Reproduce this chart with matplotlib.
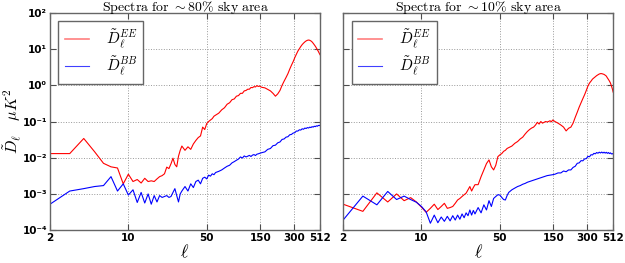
import matplotlib
matplotlib.use("Agg")
import matplotlib.pyplot as plt
from matplotlib.ticker import FixedLocator, FixedFormatter, NullLocator

plt.rcParams['mathtext.fontset'] = 'cm'

ell = [2, 3, 4, 5, 6, 7, 8, 9, 10, 11, 12, 13, 14, 15, 16, 17, 18, 19, 20, 21, 22, 23, 24, 25, 26, 27, 28, 29, 30,
       32, 34, 36, 38, 40, 42, 44, 46, 48, 50, 52, 54, 56, 58, 60,
       64, 68, 72, 76, 80, 84, 88, 92, 96, 100, 104, 108, 112, 116, 120, 124, 128, 132, 136, 140, 144, 148,
       155, 165, 175, 185, 195, 205, 215, 225, 235, 245, 255, 265, 275, 285, 295, 305, 315, 325, 335, 345,
       355, 365, 375, 385, 395, 405, 415, 425, 435, 445, 455, 465, 475, 485, 495, 505,
       512]

ee_80 = [0.013, 0.013, 0.034, 0.0146, 0.007, 0.0056, 0.0052, 0.0019, 0.0035, 0.0022, 0.0025, 0.002, 0.0027,
         0.0022, 0.0023, 0.0022, 0.0026, 0.003, 0.0032, 0.0036, 0.0055, 0.005, 0.0068, 0.0097, 0.0065, 0.0056,
         0.011, 0.016, 0.021,
         0.016, 0.02, 0.017, 0.024, 0.03, 0.036, 0.04, 0.07, 0.06, 0.088, 0.1, 0.11, 0.12, 0.14, 0.15,
         0.17, 0.21, 0.24, 0.3, 0.33, 0.4, 0.42, 0.5, 0.52, 0.6, 0.6, 0.7, 0.72, 0.78, 0.78, 0.87, 0.86, 0.92,
         0.9, 0.98, 0.93, 0.95,
         0.88, 0.85, 0.77, 0.7, 0.6, 0.5, 0.58, 0.72, 1.0, 1.3, 1.65, 2.1, 2.8, 3.6, 4.5, 5.8, 7.2, 8.8, 10.2,
         11.8, 13.3, 14.6, 15.8, 16.8, 17.5, 17.8, 17.5, 16.8, 15.8, 14.5, 13.2, 12.0, 10.8, 9.6, 8.6, 7.6,
         7.0]

bb_80 = [0.00052, 0.0012, 0.0014, 0.0016, 0.0017, 0.003, 0.0012, 0.0019, 0.00093, 0.0013, 0.00058, 0.0011,
         0.00056, 0.001, 0.00052, 0.0009, 0.0006, 0.0009, 0.0008, 0.00085, 0.0009, 0.0008, 0.00085, 0.0011,
         0.0014, 0.0009, 0.0006, 0.001, 0.0012,
         0.0016, 0.0012, 0.0019, 0.0015, 0.0022, 0.0024, 0.0019, 0.0027, 0.0029, 0.0026, 0.0033, 0.0031,
         0.0036, 0.0034, 0.0039,
         0.0042, 0.0046, 0.0052, 0.0058, 0.0062, 0.0072, 0.0078, 0.0085, 0.0092, 0.0105, 0.0098, 0.0112,
         0.0105, 0.011, 0.0116, 0.0108, 0.0118, 0.0122, 0.0115, 0.0125, 0.0128, 0.0132,
         0.0138, 0.0145, 0.0170, 0.0180, 0.0215, 0.0222, 0.0258, 0.0272, 0.032, 0.033, 0.037, 0.038, 0.043,
         0.044, 0.048, 0.049, 0.0545, 0.0545, 0.059, 0.058, 0.063, 0.061, 0.066, 0.064, 0.068, 0.066, 0.070,
         0.068, 0.072, 0.070, 0.074, 0.072, 0.076, 0.074, 0.078, 0.077,
         0.079]

ee_10 = [5.2e-4, 3.3e-4, 1.07e-3, 6e-4, 1.0e-3, 6.5e-4, 7.9e-4, 6e-4, 4.3e-4, 3.1e-4, 4.0e-4, 5.2e-4, 3.7e-4,
         4.5e-4, 5.5e-4, 4.0e-4, 4.2e-4, 4.5e-4, 5.5e-4, 6.8e-4, 7.5e-4, 8.5e-4, 9.5e-4, 1.05e-3, 1.3e-3,
         1.6e-3, 1.2e-3, 1.5e-3, 1.8e-3,
         1.8e-3, 3.0e-3, 4.6e-3, 6.9e-3, 8.7e-3, 5.6e-3, 4.6e-3, 6.2e-3, 0.0107, 0.012, 0.013, 0.015, 0.016,
         0.018, 0.019,
         0.021, 0.025, 0.028, 0.033, 0.037, 0.045, 0.053, 0.06, 0.066, 0.07, 0.08, 0.095, 0.085, 0.1, 0.09,
         0.095, 0.1, 0.097, 0.1, 0.105, 0.098, 0.11,
         0.1, 0.09, 0.08, 0.07, 0.055, 0.065, 0.07, 0.09, 0.13, 0.18, 0.25, 0.33, 0.43, 0.55, 0.72, 0.95, 1.15,
         1.3, 1.48, 1.6, 1.72, 1.85, 1.95, 2.05, 2.1, 2.1, 2.05, 2.0, 1.9, 1.8, 1.6, 1.45, 1.3, 1.15, 0.95,
         0.78,
         0.65]

bb_10 = [1.9e-4, 8.7e-4, 5e-4, 1.17e-3, 7e-4, 8.7e-4, 7e-4, 5.9e-4, 4.5e-4, 3.2e-4, 1.55e-4, 2.6e-4, 1.6e-4,
         2.3e-4, 1.75e-4, 2.4e-4, 1.8e-4, 2.5e-4, 1.9e-4, 2.6e-4, 2.0e-4, 2.8e-4, 2.2e-4, 3.0e-4, 2.5e-4,
         3.6e-4, 2.6e-4, 3.5e-4, 2.8e-4,
         4.2e-4, 3.0e-4, 5.0e-4, 3.6e-4, 6.5e-4, 4.5e-4, 7.5e-4, 8.5e-4, 9.5e-4, 9.3e-4, 8e-4, 7e-4, 6.8e-4,
         9e-4, 1.1e-3,
         1.3e-3, 1.45e-3, 1.6e-3, 1.7e-3, 1.85e-3, 1.95e-3, 2.1e-3, 2.2e-3, 2.3e-3, 2.4e-3, 2.5e-3, 2.6e-3,
         2.7e-3, 2.8e-3, 2.9e-3, 3.0e-3, 3.1e-3, 3.2e-3, 3.25e-3, 3.3e-3, 3.35e-3, 3.4e-3,
         3.5e-3, 3.8e-3, 3.8e-3, 4.3e-3, 4.1e-3, 4.6e-3, 4.6e-3, 5.4e-3, 5.8e-3, 7.0e-3, 7.2e-3, 8.3e-3,
         8.2e-3, 9.3e-3, 9.4e-3, 0.0109, 0.0106, 0.0121, 0.0119, 0.0132, 0.0128, 0.0139, 0.0133, 0.0142,
         0.0135, 0.0143, 0.0135, 0.0142, 0.0134, 0.0141, 0.0132, 0.0139, 0.013, 0.0136, 0.0127, 0.013,
         0.0126]

titles = [r'$\mathrm{Spectra\ for\ }\sim 80\%\ \mathrm{sky\ area}$',
          r'$\mathrm{Spectra\ for\ }\sim 10\%\ \mathrm{sky\ area}$']
xticks = [2, 10, 50, 150, 300, 512]
yticks = [1e-4, 1e-3, 1e-2, 1e-1, 1e0, 1e1, 1e2]
ytick_labels = ['10⁻⁴', '10⁻³', '10⁻²', '10⁻¹', '10⁰', '10¹', '10²']
labels = [r'$\tilde{D}_\ell^{EE}$', r'$\tilde{D}_\ell^{BB}$']

fig = plt.figure(figsize=(6.25, 2.63), dpi=100)
ax1 = fig.add_axes([0.080, 0.125, 0.432, 0.826])
ax2 = fig.add_axes([0.549, 0.125, 0.432, 0.826])

for ax, ee, bb, title in [(ax1, ee_80, bb_80, titles[0]), (ax2, ee_10, bb_10, titles[1])]:
    ax.plot(ell, ee, color='red', lw=0.8, label=labels[0])
    ax.plot(ell, bb, color='blue', lw=0.8, label=labels[1])
    ax.set_xscale('log')
    ax.set_yscale('log')
    ax.set_xlim(2, 512)
    ax.set_ylim(1e-4, 1e2)
    ax.xaxis.set_major_locator(FixedLocator(xticks))
    ax.xaxis.set_major_formatter(FixedFormatter([str(t) for t in xticks]))
    ax.xaxis.set_minor_locator(NullLocator())
    ax.yaxis.set_major_locator(FixedLocator(yticks))
    ax.yaxis.set_minor_locator(NullLocator())
    ax.tick_params(direction='in', top=True, right=True, length=4, width=0.8, colors='0.3',
                   labelcolor='black', labelsize=7.5, pad=2)
    ax.grid(True, linestyle=':', color='0.6', lw=0.7)
    for sp in ax.spines.values():
        sp.set_color('0.4')
        sp.set_linewidth(1.0)
    ax.set_title(title, fontsize=10, pad=1.5)
    ax.set_xlabel(r'$\ell$', fontsize=13, labelpad=0)
    leg = ax.legend(loc='upper left', fontsize=11, fancybox=False, framealpha=1,
                    edgecolor='0.4', handlelength=1.6, borderpad=0.4, labelspacing=0.3,
                    handletextpad=1.1, borderaxespad=0.55)
    leg.get_frame().set_linewidth(1.0)
    leg.get_lines()[0].set_alpha(0.5)
    leg.get_lines()[0].set_linewidth(1.2)
    leg.get_lines()[1].set_alpha(0.75)

ax1.yaxis.set_major_formatter(FixedFormatter(ytick_labels))
ax2.set_yticklabels([])
ax1.set_ylabel(r'$\tilde{D}_\ell\quad \mu K^2$', fontsize=11.5)
ax1.yaxis.set_label_coords(-0.095, 0.5)
for ax in (ax1, ax2):
    for lab in ax.get_xticklabels() + ax.get_yticklabels():
        lab.set_fontweight('bold')

fig.savefig('out.png', dpi=100)
